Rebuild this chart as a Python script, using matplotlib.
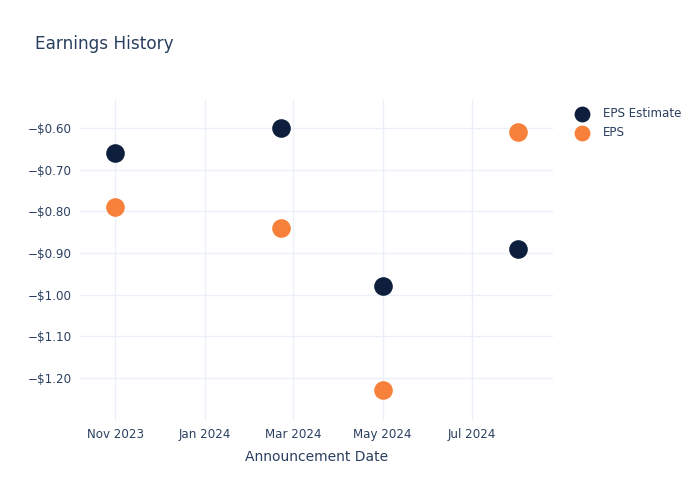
import matplotlib
matplotlib.use("Agg")
import matplotlib.pyplot as plt
import matplotlib.dates as mdates
import pandas as pd

dates = ["2023-11-01", "2024-02-22", "2024-05-01", "2024-08-01"]
eps_estimate = [-0.66, -0.60, -0.98, -0.89]
eps_actual = [-0.79, -0.84, -1.23, -0.61]
y_ticks = [-0.6, -0.7, -0.8, -0.9, -1.0, -1.1, -1.2]
x_ticks = ["2023-11-01", "2024-01-01", "2024-03-01", "2024-05-01", "2024-07-01"]

plt.rcParams['font.family'] = ['DejaVu Sans']
text_color = "#2a3f5f"
grid_color = "#ebf0f8"

fig = plt.figure(figsize=(7, 5), dpi=100)
ax = fig.add_axes([80/700, 80/500, 473/700, 320/500])

d = pd.to_datetime(dates)
ax.scatter(d, eps_estimate, s=180, color="#0d1f3c", label="EPS Estimate", zorder=3, linewidths=0)
ax.scatter(d, eps_actual, s=180, color="#f7813a", label="EPS", zorder=3, linewidths=0)

ax.set_xlim(pd.Timestamp("2023-10-08"), pd.Timestamp("2024-08-25"))
ax.set_ylim(-1.301, -0.533)

xt = pd.to_datetime(x_ticks)
ax.set_xticks(xt)
ax.set_xticklabels([t.strftime("%b %Y") for t in xt])
ax.set_yticks(y_ticks)
ax.set_yticklabels(["\u2212$%.2f" % abs(v) for v in y_ticks])

for s in ax.spines.values():
    s.set_visible(False)
ax.grid(True, color=grid_color, linewidth=1)
ax.set_axisbelow(True)
ax.tick_params(axis='both', length=0, labelsize=8.6, colors=text_color, pad=6)
ax.set_xlabel("Announcement Date", fontsize=10, color=text_color, labelpad=6)

fig.text(35/700, 1 - 44/500, "Earnings History", fontsize=12.2, color=text_color, va="center", ha="left")

leg = ax.legend(loc="upper left", bbox_to_anchor=(1.025, 0.992), frameon=False,
                fontsize=8.6, labelcolor=text_color, handletextpad=0.8, borderaxespad=0,
                labelspacing=0.5, markerscale=0.85)

fig.savefig("out.png", dpi=100)
